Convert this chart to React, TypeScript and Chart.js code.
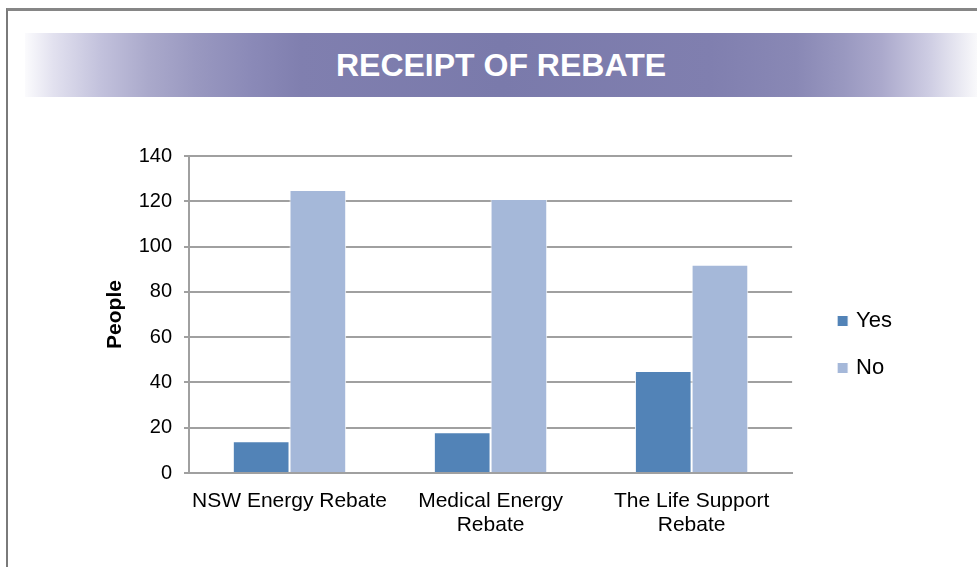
import React, { useEffect, useRef } from "react";
import { Chart, registerables } from "chart.js";

Chart.register(...registerables);

const categories: (string | string[])[] = [
  "NSW Energy Rebate",
  ["Medical Energy", "Rebate"],
  ["The Life Support", "Rebate"],
];
const yesValues = [14, 18, 45];
const noValues = [125, 121, 92];
const seriesNames = ["Yes", "No"];
const yTickMin = 0;
const yTickMax = 140;
const yTickStep = 20;
const title = "RECEIPT OF REBATE";
const yAxisTitle = "People";

const FONT = "'Liberation Sans', Arial, Helvetica, sans-serif";

export default function App() {
  const canvasRef = useRef<HTMLCanvasElement | null>(null);

  useEffect(() => {
    if (!canvasRef.current) return;
    Chart.defaults.font.family = FONT;
    const chart = new Chart(canvasRef.current, {
      type: "bar",
      data: {
        labels: categories,
        datasets: [
          {
            label: seriesNames[0],
            data: yesValues,
            backgroundColor: "#5283b7",
            borderColor: "#ffffff",
            borderWidth: 1,
          },
          {
            label: seriesNames[1],
            data: noValues,
            backgroundColor: "#a5b8d9",
            borderColor: "#ffffff",
            borderWidth: 1,
          },
        ],
      },
      options: {
        animation: false,
        responsive: false,
        events: [],
        layout: { padding: { top: 156, left: 99, right: 75, bottom: 28 } },
        datasets: {
          bar: { categoryPercentage: 0.564, barPercentage: 1 },
        },
        plugins: {
          tooltip: { enabled: false },
          title: { display: false },
          legend: {
            position: "right",
            align: "start",
            title: {
              display: true,
              text: "",
              font: { size: 10, lineHeight: 1 },
              padding: { top: 119, bottom: 0 },
            },
            labels: {
              usePointStyle: true,
              pointStyle: "rect",
              boxWidth: 5,
              boxHeight: 11,
              padding: 25,
              color: "#000000",
              font: { size: 22, family: FONT },
            },
          },
        },
        scales: {
          x: {
            grid: { display: false, drawTicks: false },
            border: { display: true, color: "#a0a0a0", width: 2 },
            ticks: {
              color: "#000000",
              padding: 16,
              maxRotation: 0,
              autoSkip: false,
              font: { size: 21, lineHeight: 1.143, family: FONT },
            },
            afterFit: (s: any) => {
              s.height = 66;
            },
          },
          y: {
            min: yTickMin,
            max: yTickMax,
            ticks: {
              stepSize: yTickStep,
              color: "#000000",
              padding: 12,
              font: { size: 20, family: FONT },
            },
            grid: {
              color: "#a0a0a0",
              lineWidth: 2,
              drawTicks: true,
              tickLength: 5,
            },
            border: { display: true, color: "#a0a0a0", width: 2 },
            title: {
              display: true,
              text: yAxisTitle,
              color: "#000000",
              padding: { top: 4, bottom: 0 },
              font: { size: 21, weight: "bold", family: FONT },
            },
            afterFit: (s: any) => {
              s.width = 90;
            },
          },
          ySpacer: {
            type: "linear",
            position: "right",
            display: true,
            grid: { display: false, drawTicks: false },
            ticks: { display: false },
            border: { display: false },
            afterFit: (s: any) => {
              s.width = 23;
            },
          },
        },
      },
    } as any);
    return () => chart.destroy();
  }, []);

  return (
    <div
      style={{
        position: "absolute",
        left: 0,
        top: 0,
        width: 977,
        height: 567,
        overflow: "hidden",
        background: "#ffffff",
      }}
    >
      <div
        style={{
          position: "absolute",
          left: 6,
          top: 8,
          right: -10,
          bottom: -10,
          borderTop: "3px solid #868686",
          borderLeft: "2px solid #7a7a7a",
        }}
      />
      <div
        style={{
          position: "absolute",
          left: 25,
          top: 33,
          width: 952,
          height: 64,
          background:
            "linear-gradient(to right, #fbfbfd 0%, #e2e1ef 3%, #c2c1dc 8%, #aaa9cb 13%, #9998c0 18%, #8a89b7 24%, #807faf 29%, #7a7aab 50%, #807faf 72%, #8988b5 81%, #9998c0 86%, #aba9cc 90%, #cecde3 95%, #f9f9fb 100%)",
          color: "#ffffff",
          fontFamily: FONT,
          fontWeight: "bold",
          fontSize: 32,
          lineHeight: "64px",
          textAlign: "center",
        }}
      >
        {title}
      </div>
      <canvas
        ref={canvasRef}
        width={977}
        height={567}
        style={{ position: "absolute", left: 0, top: 0, display: "block" }}
      />
    </div>
  );
}
